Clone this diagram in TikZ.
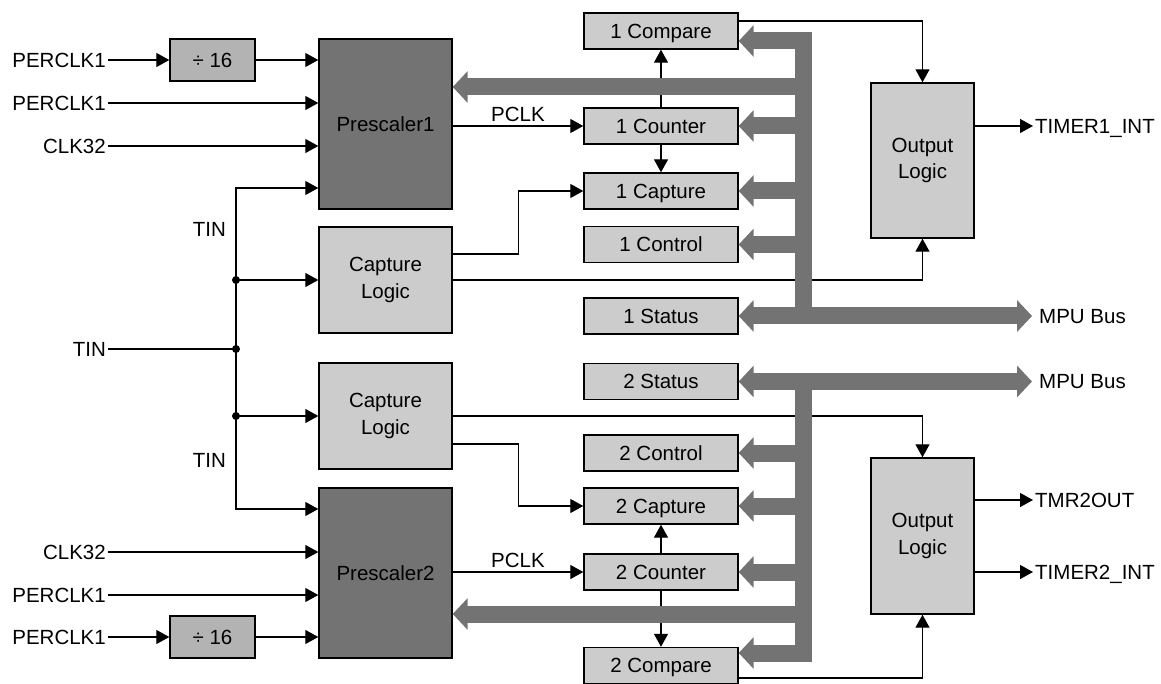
\documentclass[tikz,border=0pt]{standalone}
\usepackage{fontspec}
\setmainfont{Liberation Sans}
\usetikzlibrary{arrows.meta}
\definecolor{boxgray}{HTML}{CCCCCC}
\definecolor{divgray}{HTML}{B3B3B3}
\definecolor{darkgray}{HTML}{737373}

\begin{document}
\begin{tikzpicture}[x=1pt, y=-1pt, node distance=2cm, auto,
    font=\fontsize{20.5}{26.5}\selectfont,
    blk/.style={draw, line width=1.4pt, inner sep=0pt, text height=14.7pt, text depth=0pt},
    reg/.style={blk, fill=boxgray, minimum width=154pt, minimum height=36pt},
    pre/.style={blk, fill=darkgray, minimum width=133pt, minimum height=170pt},
    div/.style={blk, fill=divgray, minimum width=85pt, minimum height=42pt},
    logic/.style={draw, line width=1.4pt, inner sep=0pt, fill=boxgray, align=center},
    lbl/.style={inner sep=2pt, text height=14.7pt, text depth=0pt},
    wire/.style={line width=1.2pt},
    sig/.style={wire, -{Triangle[length=13pt, width=14pt]}},
    bus/.style={line width=17pt, draw=darkgray, -{Triangle[length=15pt, width=31pt]}},
    bus2/.style={bus, {Triangle[length=15pt, width=31pt]}-{Triangle[length=15pt, width=31pt]}}]
    \useasboundingbox (0,0) rectangle (1161,684);

    \node[pre] (Pre1) at (385.5,124) {Prescaler1};
    \node[logic, minimum width=133pt, minimum height=106pt] (Cap1) at (385.5,280) {Capture\\Logic};
    \node[logic, minimum width=133pt, minimum height=106pt] (Cap2) at (385.5,416) {Capture\\Logic};
    \node[pre] (Pre2) at (385.5,573) {Prescaler2};
    \node[div] (Div1) at (212.5,60) {÷ 16};
    \node[div] (Div2) at (212.5,637) {÷ 16};

    \node[lbl, anchor=east] (In1) at (108,60) {PERCLK1};
    \node[lbl, anchor=east] (In2) at (108,103) {PERCLK1};
    \node[lbl, anchor=east] (In3) at (108,146) {CLK32};
    \node[lbl, anchor=east] (Tin) at (108,349) {TIN};
    \node[lbl, anchor=east] (In4) at (108,552) {CLK32};
    \node[lbl, anchor=east] (In5) at (108,595) {PERCLK1};
    \node[lbl, anchor=east] (In6) at (108,637) {PERCLK1};
    \node[lbl, anchor=east] (TinA) at (228,229) {TIN};
    \node[lbl, anchor=east] (TinB) at (228,460) {TIN};

    \node[reg] (Cmp1) at (661,31) {1 Compare};
    \node[reg, below of=Cmp1, node distance=95pt] (Cnt1) {1 Counter};
    \node[reg, below of=Cnt1, node distance=65pt] (Capt1) {1 Capture};
    \node[reg, below of=Capt1, node distance=53.5pt] (Ctl1) {1 Control};
    \node[reg, below of=Ctl1, node distance=71.5pt] (Sts1) {1 Status};
    \node[reg, below of=Sts1, node distance=65.5pt] (Sts2) {2 Status};
    \node[reg, below of=Sts2, node distance=71.5pt] (Ctl2) {2 Control};
    \node[reg, below of=Ctl2, node distance=53pt] (Capt2) {2 Capture};
    \node[reg, below of=Capt2, node distance=66pt] (Cnt2) {2 Counter};
    \node[reg, below of=Cnt2, node distance=93.5pt] (Cmp2) {2 Compare};

    \node[logic, minimum width=103pt, minimum height=155pt] (Out1) at (922.5,160.5) {Output\\Logic};
    \node[logic, minimum width=103pt, minimum height=156pt] (Out2) at (922.5,536) {Output\\Logic};

    \node[lbl, anchor=west] (Int1) at (1033,126) {TIMER1\_INT};
    \node[lbl, anchor=west] (Tmr2) at (1033,500) {TMR2OUT};
    \node[lbl, anchor=west] (Int2) at (1033,572) {TIMER2\_INT};
    \node[lbl, anchor=west, inner xsep=7pt] (Mpu1) at (1032,316) {MPU Bus};
    \node[lbl, anchor=west, inner xsep=7pt] (Mpu2) at (1032,381.5) {MPU Bus};

    \coordinate (Jt) at (236,349);
    \coordinate (Ja) at (236,280);
    \coordinate (Jb) at (236,416);
    \coordinate (Tt) at (236,188);
    \coordinate (Tb) at (236,509);

    \draw[sig] (In1) -- (Div1);
    \draw[sig] (Div1) -- (Div1 -| Pre1.west);
    \draw[sig] (In2) -- (In2 -| Pre1.west);
    \draw[sig] (In3) -- (In3 -| Pre1.west);
    \draw[wire] (Tin) -- (Jt);
    \draw[sig] (Jt) |- (Tt -| Pre1.west);
    \draw[sig] (Jt) |- (Tb -| Pre2.west);
    \draw[sig] (Ja) -- (Cap1);
    \draw[sig] (Jb) -- (Cap2);
    \fill (Jt) circle (4pt) (Ja) circle (4pt) (Jb) circle (4pt);
    \draw[sig] (In4) -- (In4 -| Pre2.west);
    \draw[sig] (In5) -- (In5 -| Pre2.west);
    \draw[sig] (In6) -- (Div2);
    \draw[sig] (Div2) -- (Div2 -| Pre2.west);

    \draw[sig] (Pre1.east |- Cnt1) -- node {PCLK} (Cnt1);
    \draw[sig] (Cnt1) -- (Cmp1);
    \draw[sig] (Cnt1) -- (Capt1);
    \draw[sig] ([yshift=26pt]Cap1.east) -- ++(66,0) |- (Capt1);
    \draw[sig] (Cap1.east) -| (Out1.south);
    \draw[sig] ([yshift=10pt]Cmp1.east) -| (Out1.north);
    \draw[sig] (Out1.east |- Int1) -- (Int1);

    \draw[sig] (Pre2.east |- Cnt2) -- node {PCLK} (Cnt2);
    \draw[sig] (Cnt2) -- (Capt2);
    \draw[sig] (Cnt2) -- (Cmp2);
    \draw[sig] ([yshift=-28pt]Cap2.east) -- ++(66,0) |- (Capt2);
    \draw[sig] (Cap2.east) -| (Out2.north);
    \draw[sig] ([yshift=-12.5pt]Cmp2.east) -| (Out2.south);
    \draw[sig] (Out2.east |- Tmr2) -- (Tmr2);
    \draw[sig] (Out2.east |- Int2) -- (Int2);

    \coordinate (B1t) at (803,41);
    \coordinate (B1b) at (803,316);
    \coordinate (B1p) at (803,87);
    \coordinate (B2t) at (803,381.5);
    \coordinate (B2b) at (803,653);
    \coordinate (B2p) at (803,614);

    \draw[bus] (B1b) -- (B1t) -- (B1t -| Cmp1.east);
    \draw[bus] (B1p) -- (B1p -| Pre1.east);
    \draw[bus] (B1b |- Cnt1) -- (Cnt1);
    \draw[bus] (B1b |- Capt1) -- (Capt1);
    \draw[bus] (B1b |- Ctl1) -- (Ctl1);
    \draw[bus2] (Sts1) -- (Mpu1);

    \draw[bus] (B2t) -- (B2b) -- (B2b -| Cmp2.east);
    \draw[bus] (B2p) -- (B2p -| Pre2.east);
    \draw[bus] (B2t |- Ctl2) -- (Ctl2);
    \draw[bus] (B2t |- Capt2) -- (Capt2);
    \draw[bus] (B2t |- Cnt2) -- (Cnt2);
    \draw[bus2] (Sts2) -- (Mpu2);
\end{tikzpicture}
\end{document}
